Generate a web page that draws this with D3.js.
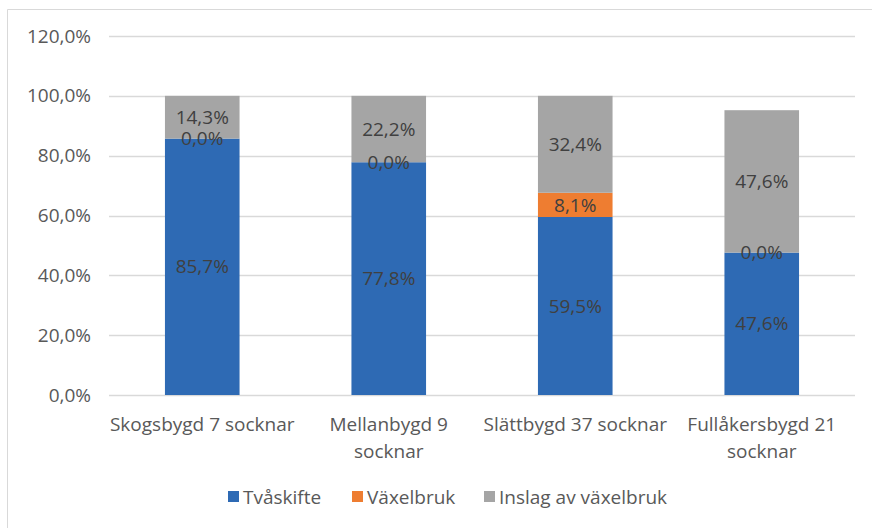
<!DOCTYPE html>
<html>
<head>
<meta charset="utf-8">
<script src="https://cdn.jsdelivr.net/npm/d3@7"></script>
<style>
  body { margin: 0; background: #fff; }
  text { font-family: "Open Sans", sans-serif; }
</style>
</head>
<body>
<svg id="chart" width="872" height="528"></svg>
<script>
// data
const categories = [["Skogsbygd 7 socknar"], ["Mellanbygd 9", "socknar"], ["Slättbygd 37 socknar"], ["Fullåkersbygd 21", "socknar"]];
const tvaskifte = [85.7, 77.8, 59.5, 47.6];
const vaxelbruk = [0.0, 0.0, 8.1, 0.0];
const inslag = [14.3, 22.2, 32.4, 47.6];
const seriesNames = ["Tvåskifte", "Växelbruk", "Inslag av växelbruk"];
const yTicks = [0, 20, 40, 60, 80, 100, 120];

const colors = ["#2e6ab4", "#ee7d31", "#a5a5a5"];

var svg = d3.select("#chart");

// outer chart frame (only top/left visible)
svg.append("path")
  .attr("d", "M7.5,880 V9.5 H900")
  .attr("fill", "none")
  .attr("stroke", "#d9d9d9");

var x = d3.scaleBand()
  .domain(d3.range(categories.length))
  .range([109, 855])
  .paddingInner(0.6)
  .paddingOuter(0.3);

var y = d3.scaleLinear()
  .domain([0, 120])
  .range([395, 36]);

// gridlines
svg.append("g")
  .selectAll("line")
  .data(yTicks)
  .enter()
  .append("line")
  .attr("x1", 109)
  .attr("x2", 855)
  .attr("y1", d => Math.round(y(d)) + 0.5)
  .attr("y2", d => Math.round(y(d)) + 0.5)
  .attr("stroke", "#d9d9d9")
  .attr("stroke-width", 1.5);

// y tick labels
svg.append("g")
  .selectAll("text")
  .data(yTicks)
  .enter()
  .append("text")
  .attr("x", 91)
  .attr("y", d => y(d))
  .attr("dy", "0.35em")
  .attr("text-anchor", "end")
  .attr("fill", "#595959")
  .style("font-size", "19px")
  .text(d => d.toFixed(1).replace(".", ",") + "%");

// stacked data
var rows = categories.map((c, i) => ({i: i, s0: tvaskifte[i], s1: vaxelbruk[i], s2: inslag[i]}));
var stack = d3.stack().keys(["s0", "s1", "s2"]);
var layers = stack(rows);

var g = svg.append("g");
layers.forEach(function(layer, k) {
  g.selectAll(".bar" + k)
    .data(layer)
    .enter()
    .append("rect")
    .attr("x", d => x(d.data.i))
    .attr("width", x.bandwidth())
    .attr("y", d => y(d[1]))
    .attr("height", d => y(d[0]) - y(d[1]))
    .attr("fill", colors[k]);
});

// data labels
layers.forEach(function(layer, k) {
  g.selectAll(".lbl" + k)
    .data(layer)
    .enter()
    .append("text")
    .attr("x", d => x(d.data.i) + x.bandwidth() / 2)
    .attr("y", d => y((d[0] + d[1]) / 2))
    .attr("dy", "0.35em")
    .attr("text-anchor", "middle")
    .attr("fill", "#404040")
    .style("font-size", "19px")
    .text(d => (d[1] - d[0]).toFixed(1).replace(".", ",") + "%");
});

// category labels
var cat = svg.append("g")
  .selectAll("text")
  .data(categories)
  .enter()
  .append("text")
  .attr("x", (d, i) => x(i) + x.bandwidth() / 2)
  .attr("y", 431)
  .attr("text-anchor", "middle")
  .attr("fill", "#595959")
  .style("font-size", "19px");
cat.selectAll("tspan")
  .data(d => d)
  .enter()
  .append("tspan")
  .attr("x", function() { return d3.select(this.parentNode).attr("x"); })
  .attr("dy", (d, j) => j === 0 ? 0 : 27)
  .text(d => d);

// legend
var legendX = [228, 352, 484];
var legend = svg.append("g")
  .selectAll("g")
  .data(seriesNames)
  .enter()
  .append("g")
  .attr("transform", (d, i) => "translate(" + legendX[i] + ",491)");
legend.append("rect")
  .attr("width", 11)
  .attr("height", 11)
  .attr("fill", (d, i) => colors[i]);
legend.append("text")
  .attr("x", 15)
  .attr("y", 6)
  .attr("dy", "0.35em")
  .attr("fill", "#595959")
  .style("font-size", "19px")
  .text(d => d);
</script>
</body>
</html>
